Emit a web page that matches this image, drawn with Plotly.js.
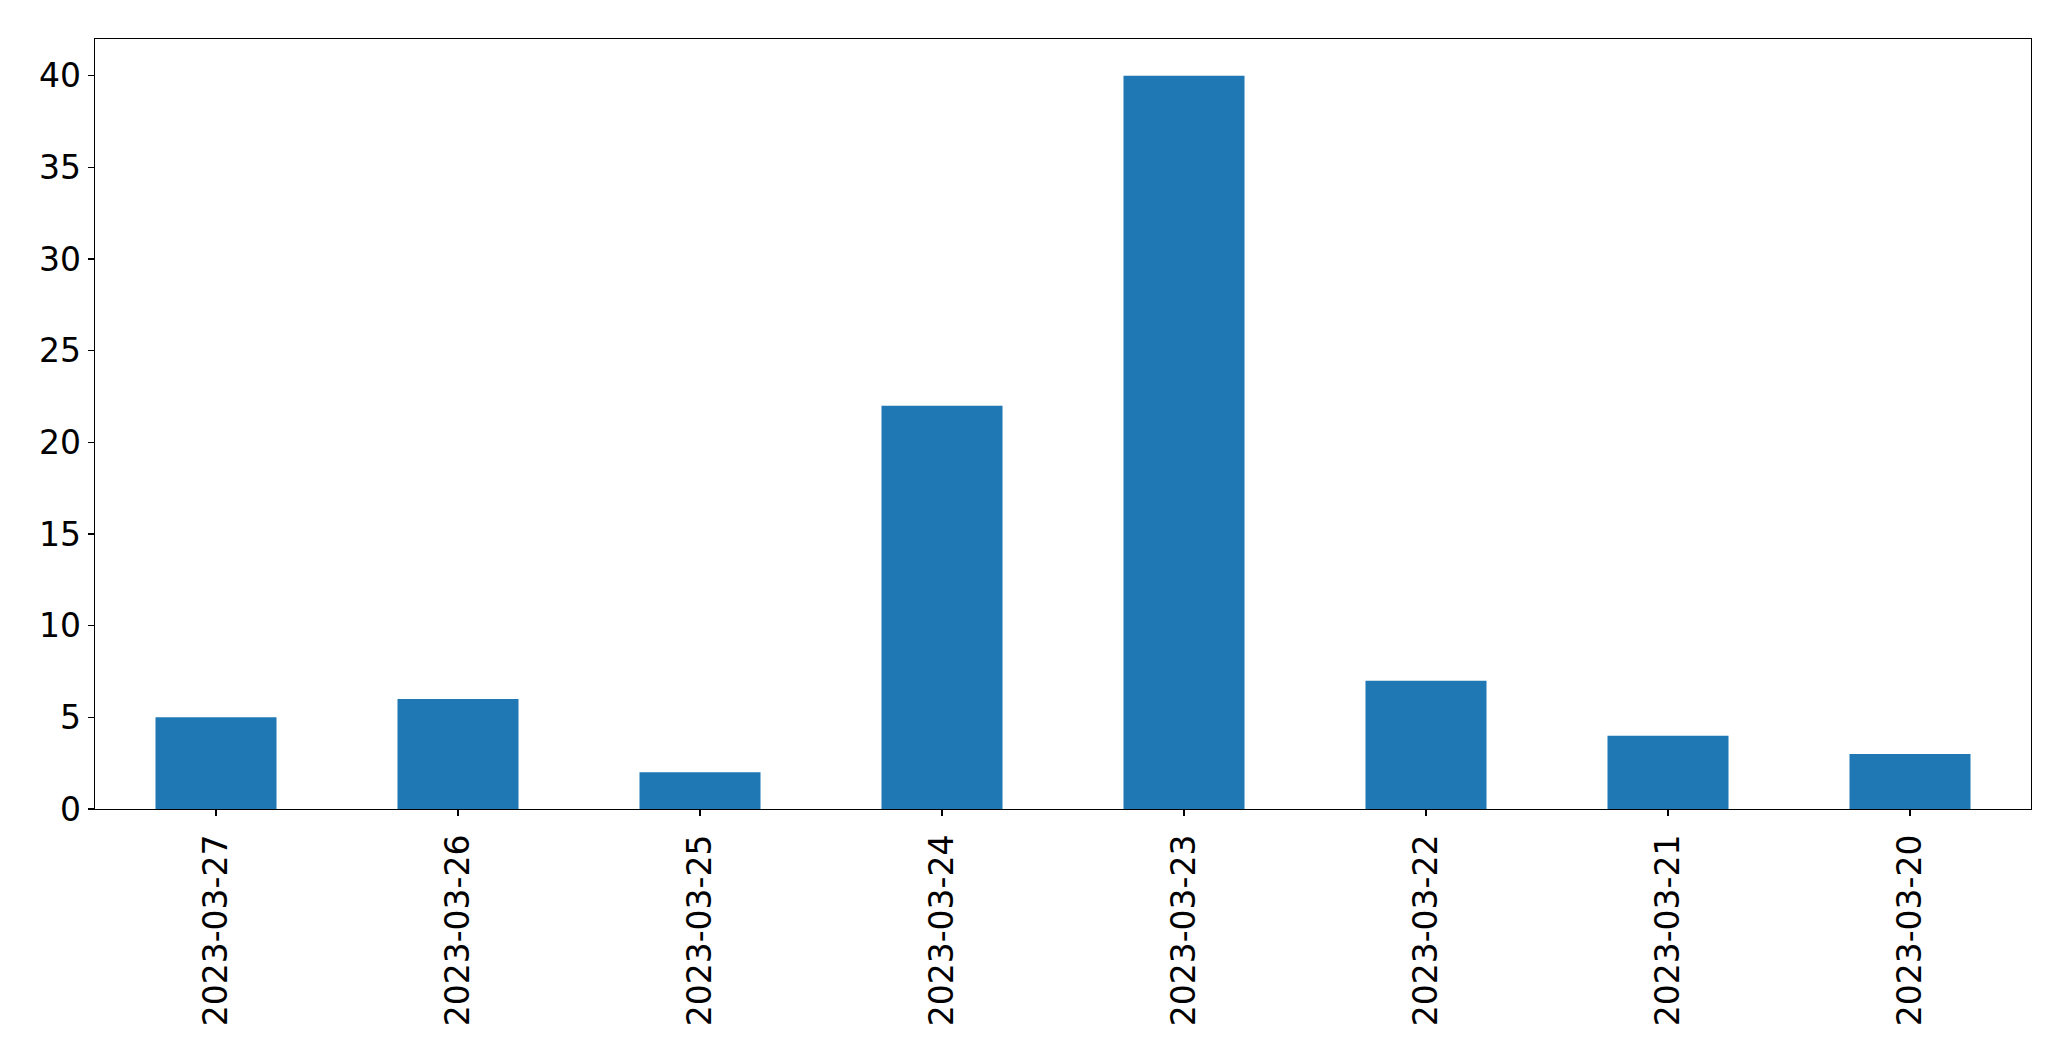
<!DOCTYPE html>
<html>
<head>
<meta charset="utf-8">
<script src="https://cdn.plot.ly/plotly-3.0.1.min.js"></script>
<style>html,body{margin:0;padding:0;background:#fff;}#chart{width:2071px;height:1061px;}</style>
</head>
<body>
<div id="chart"></div>
<script>
const categories = ["2023-03-27","2023-03-26","2023-03-25","2023-03-24","2023-03-23","2023-03-22","2023-03-21","2023-03-20"];
const counts = [5, 6, 2, 22, 40, 7, 4, 3];
const yTicks = [0, 5, 10, 15, 20, 25, 30, 35, 40];

const trace = {
  type: 'bar',
  x: categories,
  y: counts,
  width: 0.5,
  marker: {color: '#1f77b4', line: {width: 0}},
  hoverinfo: 'x+y'
};

const layout = {
  width: 2071,
  height: 1061,
  margin: {l: 95, r: 40, t: 39, b: 252, pad: 0},
  paper_bgcolor: '#ffffff',
  plot_bgcolor: '#ffffff',
  showlegend: false,
  font: {family: 'DejaVu Sans, sans-serif', size: 33, color: '#000000'},
  xaxis: {
    type: 'category',
    range: [-0.5, 7.5],
    tickangle: -90,
    ticks: 'outside',
    ticklen: 6,
    tickwidth: 1.3,
    tickcolor: '#000',
    showgrid: false,
    zeroline: false,
    showline: true,
    linecolor: '#000',
    linewidth: 1.3,
    mirror: true,
    ticklabelstandoff: 5,
    tickfont: {family: 'DejaVu Sans, sans-serif', size: 33, color: '#000'}
  },
  yaxis: {
    range: [0, 42],
    tickvals: yTicks,
    ticktext: yTicks.map(String),
    ticks: 'outside',
    ticklen: 6,
    tickwidth: 1.3,
    tickcolor: '#000',
    showgrid: false,
    zeroline: false,
    showline: true,
    linecolor: '#000',
    linewidth: 1.3,
    mirror: true,
    ticklabelstandoff: 0,
    tickfont: {family: 'DejaVu Sans, sans-serif', size: 33, color: '#000'}
  }
};

Plotly.newPlot('chart', [trace], layout, {displayModeBar: false, staticPlot: true});
</script>
</body>
</html>
